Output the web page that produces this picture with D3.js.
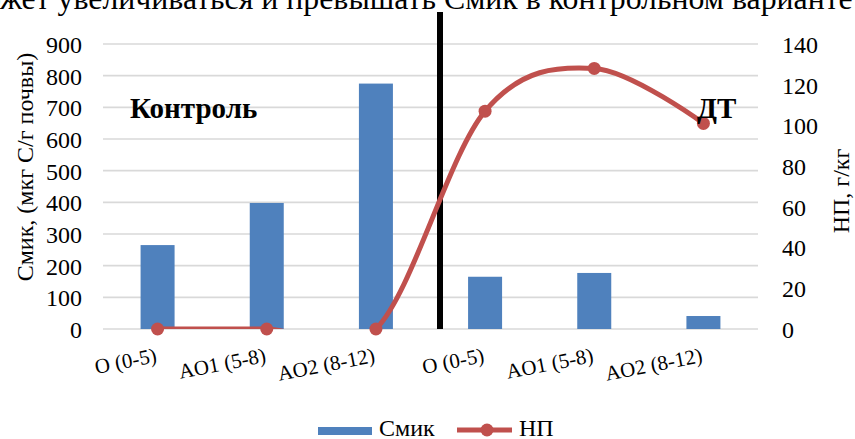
<!DOCTYPE html>
<html>
<head>
<meta charset="utf-8">
<script src="https://cdn.jsdelivr.net/npm/d3@7"></script>
<style>
  html, body { margin: 0; padding: 0; background: #fff; }
  svg { display: block; }
  text { font-family: "Liberation Serif", "Times New Roman", serif; fill: #000; }
</style>
</head>
<body>
<svg id="chart" width="855" height="439" font-family="'Liberation Serif', serif"></svg>
<script>
// Horizons sampled in each variant (Контроль | ДТ)
const categories = ["O (0-5)", "AO1 (5-8)", "AO2 (8-12)", "O (0-5)", "AO1 (5-8)", "AO2 (8-12)"];
// Микробная биомасса, мкг С/г почвы
const cmicValues = [265, 398, 775, 165, 177, 41];
// НП, г/кг
const npValues = [0, 0, 0, 107, 128, 101];
const leftTicks = [0, 100, 200, 300, 400, 500, 600, 700, 800, 900];
const rightTicks = [0, 20, 40, 60, 80, 100, 120, 140];

const SERIF = "'Liberation Serif', 'Times New Roman', serif";
const svg = d3.select("#chart");
const plot = { left: 103, right: 758, top: 44, bottom: 329 };

const x = d3.scaleBand().domain(d3.range(categories.length))
  .range([plot.left, plot.right]).paddingInner(0).paddingOuter(0);
const yL = d3.scaleLinear().domain([0, 900]).range([plot.bottom, plot.top]);
const yR = d3.scaleLinear().domain([0, 140]).range([plot.bottom, plot.top]);

const BLUE = "#4F81BD", RED = "#C0504D", GRID = "#d9d9d9";

// Running text line above the chart, cut by the top edge; sized so that
// the part after "мо" spans the full width
const running = svg.append("text")
  .attr("y", 9)
  .style("font-size", "30px")
  .text("может увеличиваться и превышать Смик в контрольном варианте");
{
  const node = running.node();
  const full = node.getComputedTextLength();
  const prefix = node.getSubStringLength(0, 2);
  const k = 853 / (full - prefix);
  running.style("font-size", (30 * k) + "px");
  const pre2 = node.getSubStringLength(0, 2);
  running.attr("x", -pre2);
}

// Gridlines
svg.append("g").selectAll("line").data(leftTicks).join("line")
  .attr("x1", plot.left).attr("x2", plot.right)
  .attr("y1", d => yL(d)).attr("y2", d => yL(d))
  .attr("stroke", GRID).attr("stroke-width", 1.6);

// Left axis
const axL = svg.append("g").attr("transform", `translate(${plot.left},0)`)
  .call(d3.axisLeft(yL).tickValues(leftTicks).tickSize(0).tickPadding(21));
axL.attr("font-family", SERIF).attr("font-size", 24);
axL.select(".domain").remove();
axL.selectAll("text").attr("dy", "0.35em");

// Right axis
const axR = svg.append("g").attr("transform", `translate(${plot.right},0)`)
  .call(d3.axisRight(yR).tickValues(rightTicks).tickSize(0).tickPadding(24));
axR.attr("font-family", SERIF).attr("font-size", 24);
axR.select(".domain").remove();
axR.selectAll("text").attr("dy", "0.35em");

// Bars
const barW = 34;
svg.append("g").selectAll("rect").data(cmicValues).join("rect")
  .attr("x", (d, i) => x(i) + x.bandwidth() / 2 - barW / 2)
  .attr("width", barW)
  .attr("y", d => yL(d))
  .attr("height", d => yL(0) - yL(d))
  .attr("fill", BLUE);

// Divider between variants
svg.append("line")
  .attr("x1", 440).attr("x2", 440).attr("y1", 12).attr("y2", plot.bottom)
  .attr("stroke", "#000").attr("stroke-width", 6);

// Category labels
svg.append("g").selectAll("text").data(categories).join("text")
  .attr("transform", (d, i) => `translate(${x(i) + x.bandwidth() / 2},${362}) rotate(-11)`)
  .attr("text-anchor", "end")
  .style("font-size", "21px")
  .text(d => d);

// НП line (smoothed), clipped at the zero line
svg.append("clipPath").attr("id", "plotClip")
  .append("rect").attr("x", 0).attr("y", 0).attr("width", 855).attr("height", plot.bottom);

const line = d3.line()
  .x((d, i) => x(i) + x.bandwidth() / 2)
  .y(d => yR(d))
  .curve(d3.curveCatmullRom.alpha(0));

svg.append("path").datum(npValues)
  .attr("d", line)
  .attr("fill", "none")
  .attr("stroke", RED)
  .attr("stroke-width", 5)
  .attr("stroke-linecap", "round")
  .attr("clip-path", "url(#plotClip)");

svg.append("g").selectAll("circle").data(npValues).join("circle")
  .attr("cx", (d, i) => x(i) + x.bandwidth() / 2)
  .attr("cy", d => yR(d))
  .attr("r", 6.5)
  .attr("fill", RED);

// Variant labels
svg.append("text").attr("x", 130).attr("y", 118)
  .style("font-size", "29px").style("font-weight", "bold").text("Контроль");
svg.append("text").attr("x", 697).attr("y", 118)
  .style("font-size", "29px").style("font-weight", "bold").text("ДТ");

// Axis titles
svg.append("text")
  .attr("transform", "translate(33,167) rotate(-90)")
  .attr("text-anchor", "middle")
  .style("font-size", "24px")
  .text("Смик, (мкг С/г почвы)");
svg.append("text")
  .attr("transform", "translate(849,191) rotate(-90)")
  .attr("text-anchor", "middle")
  .style("font-size", "24px")
  .text("НП, г/кг");

// Legend
const lg = svg.append("g");
lg.append("rect").attr("x", 318).attr("y", 427).attr("width", 54).attr("height", 8).attr("fill", BLUE);
lg.append("text").attr("x", 379).attr("y", 436).style("font-size", "24px").text("Смик");
lg.append("line").attr("x1", 457).attr("x2", 512).attr("y1", 430).attr("y2", 430)
  .attr("stroke", RED).attr("stroke-width", 5);
lg.append("circle").attr("cx", 487).attr("cy", 430).attr("r", 6.5).attr("fill", RED);
lg.append("text").attr("x", 519).attr("y", 436).style("font-size", "24px").text("НП");
</script>
</body>
</html>
